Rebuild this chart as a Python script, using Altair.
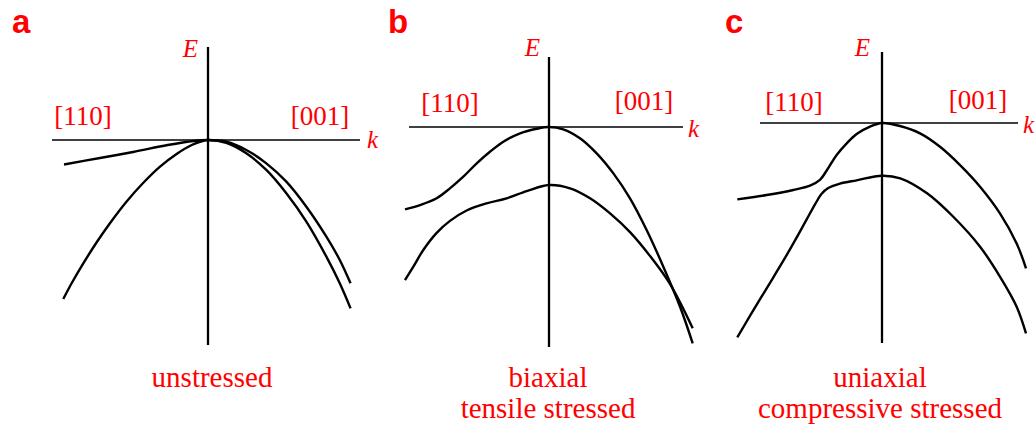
import altair as alt
import pandas as pd

RED = "#ff0000"
UNIT = 144          # pixels per unit of k and of E
HEIGHT = 427

# ---------------- band curves (k in units of the zone edge, E relative to band top) ----------------
# a: unstressed
A1_K = [-1.0, -0.75, -0.52, -0.28, -0.10, 0.0, 0.127, 0.266, 0.405, 0.544, 0.683, 0.822, 0.915, 0.99]
A1_E = [-0.17, -0.125, -0.083, -0.035, -0.007, 0.0, -0.012, -0.069, -0.162, -0.289, -0.463, -0.671, -0.833, -0.995]
A2_K = [-1.005, -0.947, -0.866, -0.773, -0.681, -0.565, -0.449, -0.333, -0.218, -0.113, -0.032, 0.0,
        0.127, 0.266, 0.405, 0.544, 0.683, 0.822, 0.915, 0.99]
A2_E = [-1.104, -0.995, -0.857, -0.710, -0.578, -0.427, -0.297, -0.185, -0.097, -0.035, -0.005, 0.0,
        -0.019, -0.092, -0.208, -0.370, -0.567, -0.810, -0.995, -1.169]

# b: biaxial tensile stressed
B1_K = [-1.0, -0.896, -0.780, -0.688, -0.595, -0.502, -0.410, -0.317, -0.201, -0.085, 0.0,
        0.099, 0.215, 0.331, 0.447, 0.5625, 0.678, 0.794, 0.910, 0.998]
B1_E = [-0.572, -0.542, -0.495, -0.426, -0.345, -0.252, -0.172, -0.102, -0.044, -0.012, 0.0,
        -0.016, -0.078, -0.183, -0.322, -0.495, -0.715, -0.970, -1.248, -1.502]
B2_K = [-1.0, -0.942, -0.873, -0.780, -0.6875, -0.572, -0.433, -0.294, -0.155, 0.0,
        0.146, 0.285, 0.424, 0.5625, 0.701, 0.840, 0.998]
B2_E = [-1.063, -0.970, -0.854, -0.735, -0.652, -0.580, -0.530, -0.495, -0.445, -0.403,
        -0.426, -0.495, -0.600, -0.730, -0.895, -1.090, -1.398]

# c: uniaxial compressive stressed
C1_K = [-1.005, -0.801, -0.616, -0.5, -0.431, -0.384, -0.315, -0.245, -0.176, -0.083, 0.0,
        0.125, 0.264, 0.403, 0.542, 0.681, 0.819, 0.935, 1.0]
C1_E = [-0.530, -0.500, -0.465, -0.435, -0.395, -0.330, -0.222, -0.141, -0.076, -0.025, 0.0,
        -0.021, -0.072, -0.165, -0.292, -0.442, -0.627, -0.836, -1.009]
C2_K = [-1.005, -0.917, -0.801, -0.686, -0.593, -0.523, -0.465, -0.419, -0.373, -0.292, -0.176, 0.0,
        0.127, 0.313, 0.495, 0.681, 0.819, 0.935, 1.0]
C2_E = [-1.489, -1.340, -1.148, -0.958, -0.796, -0.669, -0.565, -0.491, -0.452, -0.421, -0.398, -0.366,
        -0.384, -0.488, -0.651, -0.859, -1.067, -1.276, -1.461]

# ---------------- text ----------------
LETTERS = ["a", "b", "c"]
DIR_LEFT = "[110]"
DIR_RIGHT = "[001]"
CAPTIONS = [["unstressed"], ["biaxial", "tensile stressed"], ["uniaxial", "compressive stressed"]]

# ---------------- panel layout (pixel frame of each panel, origin of the E-k cross) ----------------
PANELS = [
    dict(width=382, ox=208, oy=140, vtop=47, vbot=345, hleft=52, hright=360,
         e_pos=(198, 57), k_pos=(367, 148), l_pos=(83, 125), r_pos=(320, 125),
         cap_x=212, cap_y=[387], letter_pos=(12, 33)),
    dict(width=330, ox=167, oy=127, vtop=57, vbot=347, hleft=27, hright=301,
         e_pos=(158, 56), k_pos=(306, 137), l_pos=(68, 112), r_pos=(262, 110),
         cap_x=166, cap_y=[387, 418], letter_pos=(6, 33)),
    dict(width=323, ox=170, oy=123, vtop=52, vbot=343, hleft=48, hright=306,
         e_pos=(158, 56), k_pos=(311, 133), l_pos=(82, 111), r_pos=(266, 109),
         cap_x=168, cap_y=[387, 418], letter_pos=(13, 33)),
]

BANDS = [((A1_K, A1_E), (A2_K, A2_E)),
         ((B1_K, B1_E), (B2_K, B2_E)),
         ((C1_K, C1_E), (C2_K, C2_E))]


def panel(i):
    p = PANELS[i]
    kx = lambda px: (px - p["ox"]) / UNIT
    ey = lambda py: (p["oy"] - py) / UNIT
    xs = alt.Scale(domain=[kx(0), kx(p["width"])], nice=False, zero=False)
    ys = alt.Scale(domain=[ey(HEIGHT), ey(0)], nice=False, zero=False)
    X = lambda f: alt.X(f, type="quantitative", scale=xs, axis=None)
    Y = lambda f: alt.Y(f, type="quantitative", scale=ys, axis=None)

    rows = []
    for b, (ks, es) in enumerate(BANDS[i]):
        rows += [{"band": f"band{b + 1}", "k": k, "E": e} for k, e in zip(ks, es)]
    bands = alt.Chart(pd.DataFrame(rows)).mark_line(
        color="black", strokeWidth=2.4, interpolate="catmull-rom"
    ).encode(x=X("k"), y=Y("E"), detail="band:N")

    vaxis = alt.Chart(pd.DataFrame([{"k": 0.0, "E": ey(p["vtop"]), "E2": ey(p["vbot"])}])).mark_rule(
        color="black", strokeWidth=2.3
    ).encode(x=X("k"), y=Y("E"), y2="E2")
    haxis = alt.Chart(pd.DataFrame([{"k": kx(p["hleft"]), "k2": kx(p["hright"]), "E": 0.0}])).mark_rule(
        color="black", strokeWidth=1.7
    ).encode(x=X("k"), x2="k2", y=Y("E"))

    labels = [
        {"kind": "E", "text": "E", "k": kx(p["e_pos"][0]), "E": ey(p["e_pos"][1])},
        {"kind": "k", "text": "k", "k": kx(p["k_pos"][0]), "E": ey(p["k_pos"][1])},
        {"kind": "dir", "text": DIR_LEFT, "k": kx(p["l_pos"][0]), "E": ey(p["l_pos"][1])},
        {"kind": "dir", "text": DIR_RIGHT, "k": kx(p["r_pos"][0]), "E": ey(p["r_pos"][1])},
        {"kind": "letter", "text": LETTERS[i], "k": kx(p["letter_pos"][0]), "E": ey(p["letter_pos"][1])},
    ]
    for line, y in zip(CAPTIONS[i], p["cap_y"]):
        labels.append({"kind": "cap", "text": line, "k": kx(p["cap_x"]), "E": ey(y)})
    ldf = pd.DataFrame(labels)

    def txt(kind, **style):
        return alt.Chart(ldf).transform_filter(alt.datum.kind == kind).mark_text(
            baseline="alphabetic", color=RED, **style
        ).encode(x=X("k"), y=Y("E"), text="text:N")

    layers = [
        haxis, vaxis, bands,
        txt("E", font="Liberation Serif", fontSize=25, fontStyle="italic", align="right"),
        txt("k", font="Liberation Serif", fontSize=25, fontStyle="italic", align="left"),
        txt("dir", font="Liberation Serif", fontSize=27, align="center"),
        txt("cap", font="Liberation Serif", fontSize=29, align="center"),
        txt("letter", font="Liberation Sans", fontSize=33, fontWeight="bold", align="left"),
    ]
    return alt.layer(*layers).properties(width=p["width"], height=HEIGHT)


chart = alt.hconcat(*[panel(i) for i in range(3)], spacing=0).properties(
    padding=0, background="white"
).configure_view(stroke=None)

chart.save("out.html", embed_options={"renderer": "svg", "actions": False})
